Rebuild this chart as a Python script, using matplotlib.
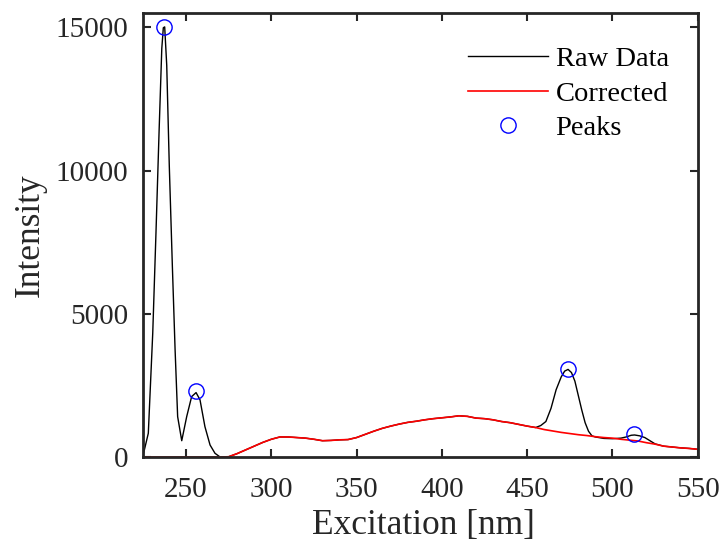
import numpy as np
import matplotlib.pyplot as plt

# corrected spectrum, every 5 nm
corr_x = [225, 230, 235, 240, 245, 250, 255, 260, 265, 270, 275, 280, 285, 290,
          295, 300, 305, 310, 315, 320, 325, 330, 335, 340, 345, 350, 355, 360,
          365, 370, 375, 380, 385, 390, 395, 400, 405, 410, 415, 420, 425, 430,
          435, 440, 445, 450, 455, 460, 465, 470, 475, 480, 485, 490, 495, 500,
          505, 510, 515, 520, 525, 530, 535, 540, 545, 550]
corr_y = [0, 0, 0, 0, 0, 0, 0, 0, 0, 0, 10, 120, 250, 380,
          510, 620, 700, 700, 680, 660, 620, 570, 580, 600, 610, 680, 790, 900,
          1000, 1080, 1150, 1210, 1250, 1300, 1340, 1370, 1400, 1440, 1420, 1360, 1340, 1300,
          1240, 1200, 1140, 1080, 1030, 960, 910, 860, 820, 780, 750, 710, 680, 660,
          620, 590, 560, 500, 450, 380, 350, 320, 300, 270]

# raw spectrum: UV peaks, then the visible peaks on top of the baseline
raw_x = [224.6, 227.9, 230.5, 232.4, 234.2, 235.8, 236.7, 237.5, 238.7, 240.2,
         242.0, 243.6, 245.1, 247.5, 250.4, 253.3, 255.9, 258.2, 261.1, 264.1,
         267.0, 270, 275, 280, 285, 290, 295, 300, 305, 310, 315, 320, 325, 330,
         335, 340, 345, 350, 355, 360, 365, 370, 375, 380, 385, 390, 395, 400,
         405, 410, 415, 420, 425, 430, 435, 440, 445, 450, 455, 458, 461, 464,
         467, 470, 472, 474, 476, 478, 480, 482, 484, 486, 488, 490, 495, 500,
         505, 508, 511, 513, 516, 519, 522, 525, 530, 535, 540, 545, 550]
raw_y = [0, 830, 4330, 7840, 11340, 14260, 14990, 15020, 13680, 10170,
         6670, 3750, 1410, 570, 1410, 2110, 2250, 2000, 1060, 420,
         130, 0, 10, 120, 250, 380, 510, 620, 700, 700, 680, 660, 620, 570,
         580, 600, 610, 680, 790, 900, 1000, 1080, 1150, 1210, 1250, 1300, 1340, 1370,
         1400, 1440, 1420, 1360, 1340, 1300, 1240, 1200, 1140, 1080, 1030, 1100, 1240, 1700,
         2350, 2800, 3000, 3060, 2950, 2650, 2150, 1650, 1200, 900, 740, 700, 650, 640,
         660, 700, 760, 770, 740, 680, 570, 460, 380, 350, 320, 300, 270]

peak_x = [237.2, 255.9, 474.0, 512.8]
peak_y = [15000, 2300, 3070, 790]

plt.rcParams['font.family'] = ['Liberation Serif', 'DejaVu Serif']
dark = '#262626'

fig = plt.figure(figsize=(7.26, 5.48), dpi=100)
ax = fig.add_axes([0.197, 0.166, 0.764, 0.810])

ax.plot(raw_x, raw_y, color='black', lw=1.0, label='Raw Data')
ax.plot(corr_x, corr_y, color='red', lw=1.2, label='Corrected')
ax.plot(peak_x, peak_y, 'o', ms=11, mfc='none', mec='blue', mew=1.0, label='Peaks')

ax.set_xlim(224.8, 550)
ax.set_ylim(0, 15500)
ax.set_xticks([250, 300, 350, 400, 450, 500, 550])
ax.set_yticks([0, 5000, 10000, 15000])

ax.tick_params(direction='in', length=6, width=1.5, top=True, right=True,
               labelsize=21, colors=dark)
ax.tick_params(axis='x', pad=14.5)
ax.tick_params(axis='y', pad=10.5)
for s in ax.spines.values():
    s.set_linewidth(2)
    s.set_color(dark)

ax.set_xlabel('Excitation [nm]', fontsize=25.5, color=dark)
ax.set_ylabel('Intensity', fontsize=25.5, color=dark)
ax.xaxis.set_label_coords(0.505, -0.117)
ax.yaxis.set_label_coords(-0.174, 0.5)

ax.legend(loc='upper left', bbox_to_anchor=(0.5856, 0.9255), frameon=False,
          fontsize=20.5, handlelength=2.8, handletextpad=0.28,
          labelspacing=0.3, borderpad=0, borderaxespad=0)

fig.savefig('out.png', dpi=100)
